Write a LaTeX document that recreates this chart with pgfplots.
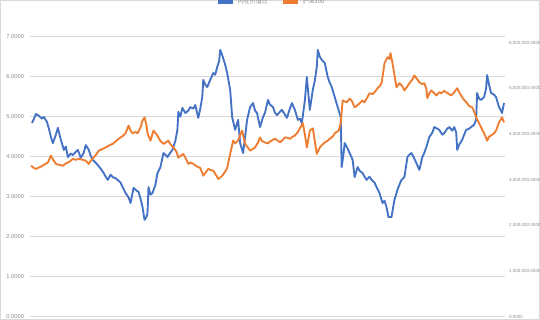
\documentclass[border=0pt]{standalone}
\usepackage{pgfplots}
\pgfplotsset{compat=1.18}
\usepackage{fontspec}
\setmainfont{Liberation Sans}
\newfontfamily\cjk{Noto Sans CJK SC}
\definecolor{xlblue}{HTML}{4472C4}
\definecolor{xlorange}{HTML}{ED7D31}
\definecolor{gridc}{HTML}{D9D9D9}
\definecolor{tickc}{HTML}{8C8C8C}
\begin{document}
\begin{tikzpicture}
\path[use as bounding box] (0,0) rectangle (405pt,240pt);
\draw[gridc,line width=0.6pt] (0.4pt,0.4pt) rectangle (404.6pt,239.6pt);
\pgfplotsset{
  base/.style={
    at={(22.5pt,2.5pt)}, anchor=south west,
    scale only axis, width=356.25pt, height=210pt,
    xmin=29, xmax=506,
    axis line style={draw=none},
    major tick style={draw=none},
    hide x axis,
    scaled y ticks=false,
    ticklabel style={font=\fontsize{4.3}{5}\selectfont, text=tickc},
    /pgf/number format/assume math mode=true,
    /pgf/number format/fixed,
    /pgf/number format/fixed zerofill,
    /pgf/number format/precision=4,
    /pgf/number format/1000 sep={,},
    clip=false,
  }
}
\begin{axis}[base,
  ymin=0, ymax=7, ytick={0,1,...,7},
  ymajorgrids, grid style={gridc, line width=0.5pt},
  yticklabel style={xshift=-1pt},
]
\addplot[xlblue, line width=1.4pt, line join=round] coordinates {
(31,4.84)(33,4.95)(35,5.07)(38,5.02)(41,4.95)(43,4.99)(46,4.87)(48,4.70)(50,4.49)(52,4.34)(55,4.55)(57,4.72)(60,4.42)(63,4.17)(65,4.25)(67,3.99)(70,4.08)(72,4.04)(75,4.12)(77,4.17)(80,3.97)(83,4.10)(85,4.29)(88,4.17)(90,4.02)(92,3.92)(95,3.85)(97,3.79)(100,3.70)(103,3.59)(105,3.50)(107,3.42)(110,3.55)(112,3.49)(115,3.46)(117,3.42)(120,3.35)(122,3.24)(125,3.09)(128,2.98)(130,2.84)(133,3.22)(136,3.15)(138,3.12)(140,2.95)(142,2.74)(144,2.42)(146,2.50)(147,2.59)(148,3.24)(150,3.05)(152,3.09)(155,3.30)(157,3.59)(160,3.74)(163,4.09)(165,4.05)(167,3.99)(170,4.10)(172,4.17)(175,4.40)(177,4.67)(178,5.12)(180,5.00)(182,5.22)(185,5.09)(188,5.15)(190,5.24)(193,5.20)(195,5.29)(198,4.97)(200,5.20)(202,5.49)(203,5.92)(205,5.80)(207,5.74)(210,5.92)(213,6.09)(215,6.05)(217,6.24)(219,6.40)(220,6.67)(222,6.54)(225,6.30)(227,6.09)(230,5.67)(232,4.99)(235,4.67)(238,4.92)(240,4.34)(243,4.09)(245,4.50)(247,4.92)(250,5.24)(253,5.34)(255,5.15)(257,5.09)(260,4.74)(263,4.99)(265,5.10)(268,5.42)(270,5.30)(273,5.24)(275,5.10)(277,5.04)(280,5.12)(282,5.17)(285,5.05)(287,4.97)(290,5.20)(292,5.34)(295,5.17)(298,4.92)(300,4.95)(302,4.84)(305,5.40)(307,5.99)(310,5.17)(313,5.67)(315,5.90)(317,6.24)(318,6.67)(320,6.50)(322,6.42)(325,6.34)(328,5.99)(330,5.85)(332,5.74)(335,5.49)(338,5.24)(341,4.99)(342,3.74)(344,4.10)(345,4.34)(348,4.20)(350,4.09)(353,3.92)(355,3.49)(358,3.74)(360,3.65)(363,3.59)(365,3.50)(367,3.42)(370,3.50)(372,3.42)(375,3.35)(377,3.24)(380,3.09)(383,2.84)(385,2.90)(387,2.74)(389,2.49)(392,2.49)(395,2.92)(398,3.17)(400,3.30)(402,3.42)(405,3.49)(408,3.99)(410,4.05)(412,4.09)(415,3.95)(417,3.84)(420,3.67)(423,3.99)(425,4.10)(427,4.24)(430,4.49)(433,4.60)(435,4.74)(438,4.70)(440,4.67)(443,4.55)(445,4.59)(448,4.70)(450,4.74)(453,4.65)(455,4.74)(457,4.60)(458,4.17)(460,4.30)(463,4.42)(465,4.55)(467,4.67)(470,4.70)(472,4.74)(475,4.80)(477,4.92)(478,5.59)(480,5.45)(482,5.42)(485,5.49)(487,5.70)(488,6.04)(490,5.80)(492,5.59)(495,5.55)(497,5.49)(500,5.24)(502,5.15)(503,5.09)(505,5.34)
};
\end{axis}
\begin{axis}[base,
  ymin=0, ymax=6140000, ytick={0,1000000,...,6000000},
  axis y line*=right,
  yticklabel style={font=\fontsize{3.4}{4}\selectfont, xshift=-0.5pt},
  legend style={at={(0.509,1.124)}, anchor=center, draw=none, fill=none,
    font=\cjk\fontsize{4.5}{5}\selectfont, text=tickc, legend columns=2,
    /tikz/every even column/.append style={column sep=8pt}},
  legend image code/.code={\draw[#1, line width=3pt] (0pt,0pt) -- (11pt,0pt);},
]
\addlegendimage{xlblue}
\addlegendentry{内在价值比}
\addplot[xlorange, line width=1.4pt, line join=round] coordinates {
(30,3.31e6)(33,3.26e6)(35,3.24e6)(38,3.27e6)(40,3.29e6)(43,3.33e6)(47,3.38e6)(50,3.53e6)(52,3.45e6)(55,3.35e6)(58,3.33e6)(62,3.31e6)(65,3.36e6)(67,3.38e6)(70,3.42e6)(72,3.46e6)(75,3.44e6)(78,3.46e6)(82,3.44e6)(85,3.42e6)(88,3.35e6)(90,3.42e6)(93,3.49e6)(96,3.57e6)(98,3.64e6)(102,3.68e6)(105,3.71e6)(108,3.75e6)(112,3.79e6)(115,3.84e6)(118,3.90e6)(122,3.96e6)(125,4.02e6)(128,4.19e6)(130,4.08e6)(132,4.02e6)(135,4.05e6)(137,4.02e6)(140,4.15e6)(142,4.30e6)(144,4.37e6)(146,4.20e6)(147,4.02e6)(150,3.86e6)(153,4.08e6)(156,4.00e6)(158,3.93e6)(160,3.85e6)(163,3.79e6)(166,3.83e6)(168,3.86e6)(170,3.78e6)(173,3.71e6)(176,3.62e6)(178,3.49e6)(180,3.52e6)(183,3.57e6)(186,3.44e6)(188,3.35e6)(190,3.38e6)(193,3.35e6)(196,3.30e6)(200,3.26e6)(203,3.09e6)(205,3.15e6)(208,3.24e6)(210,3.22e6)(213,3.20e6)(216,3.10e6)(218,3.02e6)(220,3.05e6)(222,3.09e6)(225,3.18e6)(227,3.26e6)(230,3.57e6)(233,3.86e6)(235,3.80e6)(238,3.86e6)(240,3.98e6)(242,4.08e6)(245,3.79e6)(248,3.70e6)(250,3.64e6)(253,3.68e6)(255,3.71e6)(258,3.82e6)(260,3.93e6)(262,3.85e6)(265,3.82e6)(268,3.80e6)(270,3.84e6)(273,3.88e6)(275,3.90e6)(278,3.86e6)(280,3.82e6)(283,3.88e6)(285,3.93e6)(288,3.92e6)(290,3.90e6)(293,3.95e6)(295,3.97e6)(298,4.05e6)(300,4.13e6)(303,4.24e6)(305,4.00e6)(307,3.71e6)(309,3.95e6)(310,4.08e6)(313,4.13e6)(315,3.85e6)(317,3.57e6)(320,3.71e6)(323,3.78e6)(325,3.82e6)(328,3.86e6)(330,3.90e6)(333,3.95e6)(335,4.02e6)(337,4.05e6)(339,4.08e6)(341,4.24e6)(343,4.74e6)(345,4.72e6)(347,4.70e6)(350,4.78e6)(352,4.74e6)(355,4.59e6)(358,4.64e6)(360,4.68e6)(363,4.74e6)(365,4.70e6)(368,4.82e6)(370,4.90e6)(373,4.88e6)(375,4.92e6)(378,5.01e6)(380,5.05e6)(382,5.12e6)(384,5.40e6)(385,5.56e6)(388,5.69e6)(390,5.65e6)(391,5.78e6)(393,5.56e6)(395,5.30e6)(397,5.03e6)(400,5.12e6)(403,5.05e6)(405,4.96e6)(408,5.05e6)(410,5.12e6)(413,5.20e6)(415,5.29e6)(418,5.20e6)(420,5.14e6)(423,5.10e6)(425,5.12e6)(427,5.00e6)(428,4.79e6)(430,4.90e6)(432,4.96e6)(435,4.90e6)(437,4.85e6)(440,4.92e6)(442,4.90e6)(445,4.95e6)(447,4.92e6)(450,4.88e6)(452,4.85e6)(455,4.92e6)(458,5.01e6)(460,4.92e6)(463,4.81e6)(465,4.75e6)(468,4.68e6)(470,4.62e6)(473,4.59e6)(475,4.50e6)(477,4.37e6)(480,4.24e6)(482,4.15e6)(485,4.02e6)(487,3.92e6)(488,3.86e6)(490,3.95e6)(492,3.97e6)(495,4.02e6)(497,4.08e6)(500,4.26e6)(503,4.37e6)(505,4.26e6)
};
\addlegendentry{沪深300}
\end{axis}
\end{tikzpicture}
\end{document}
